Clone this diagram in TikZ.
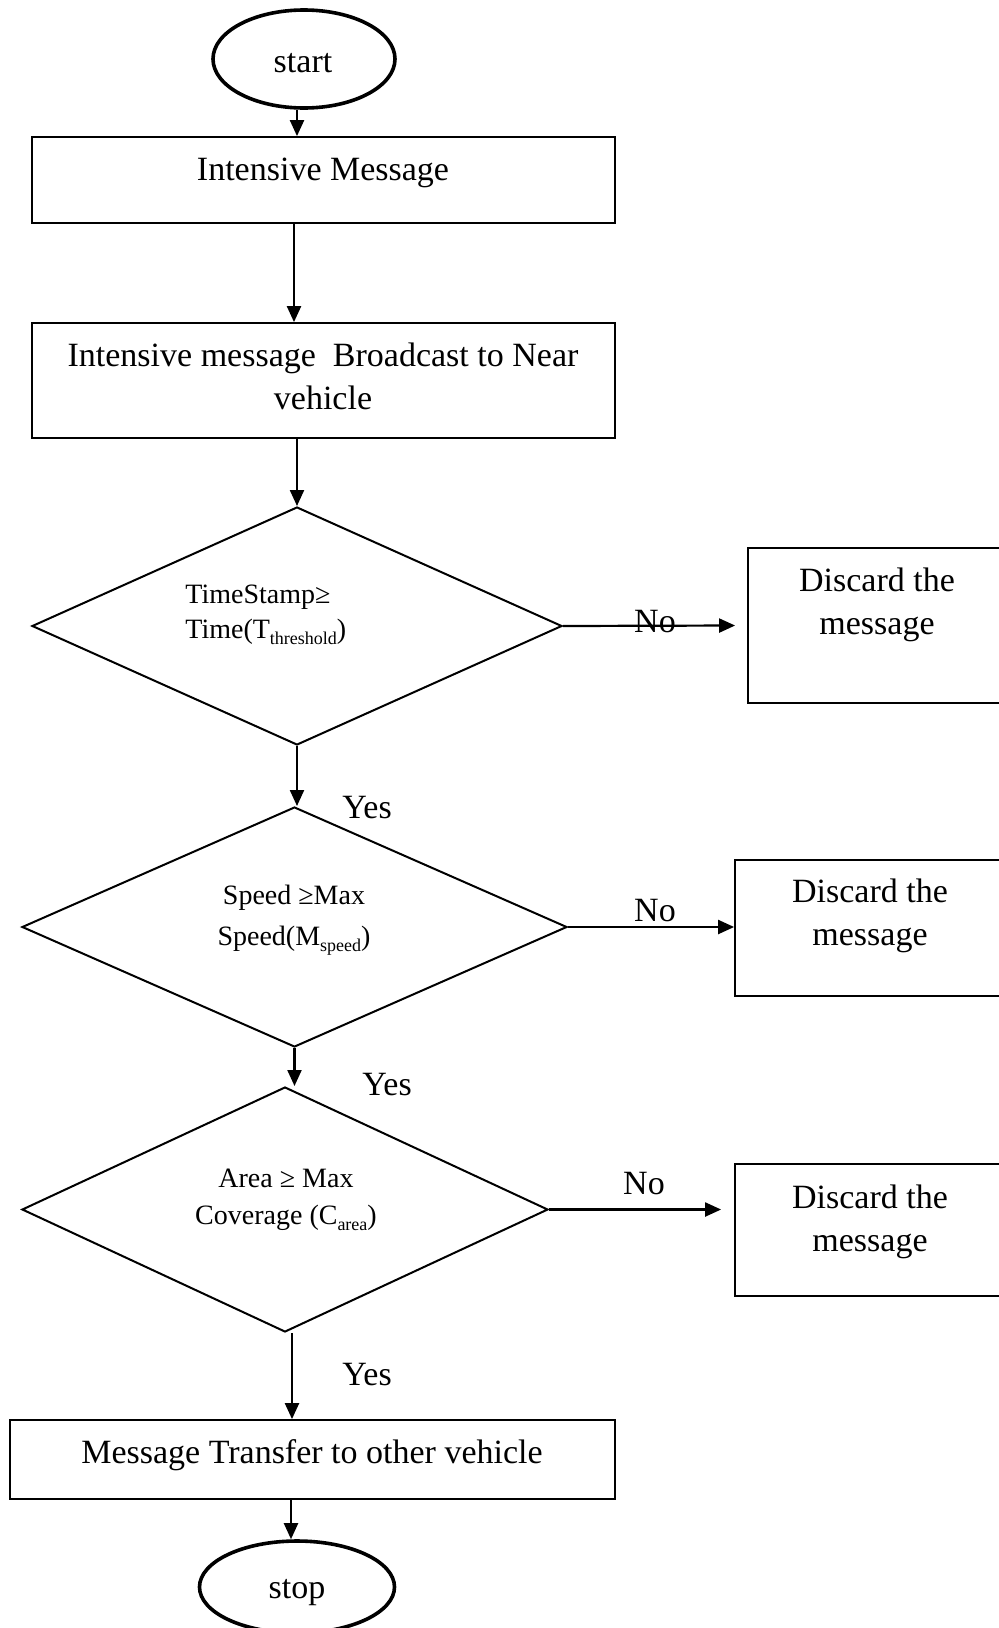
\documentclass[tikz,border=0pt]{standalone}
\usepackage{fontspec}
\setmainfont{Liberation Serif}
\usetikzlibrary{arrows.meta,shapes.geometric}
\newcommand{\sbs}[1]{\raisebox{-0.45ex}{\fontsize{9}{9}\selectfont #1}}
\begin{document}
\begin{tikzpicture}[x=0.5pt,y=-0.5pt,
  box/.style={draw,line width=0.9pt,inner sep=0},
  term/.style={draw,ellipse,line width=1.8pt,inner sep=0,font=\fontsize{17}{20}\selectfont},
  dec/.style={draw,diamond,line width=1pt,inner sep=0},
  txt/.style={font=\fontsize{17}{21.5}\selectfont,align=center,inner sep=0},
  dtxt/.style={font=\fontsize{14}{17.5}\selectfont,inner sep=0},
  arr/.style={line width=1.1pt,-{Triangle[length=8pt,width=7pt]}},
  lbl/.style={font=\fontsize{17}{20}\selectfont,inner sep=0}]
\useasboundingbox (0,0) rectangle (999,1628);
\clip (0,0) rectangle (999,1628);

% terminals
\node[term,minimum width=91pt,minimum height=49pt] (start) at (304,59) {};
\node[lbl] (startt) at (303,63) {start};
\node[term,minimum width=97.5pt,minimum height=46pt] (stop) at (297,1587) {};
\node[lbl] (stopt) at (297,1593) {stop};

% process boxes
\node[box,minimum width=291.5pt,minimum height=43pt] (b1) at (323.5,180) {};
\node[txt] (b1t) at (323,173) {Intensive Message};
\node[box,minimum width=291.5pt,minimum height=57.5pt] (b2) at (323.5,380.5) {};
\node[txt] (b2t) at (323,376) {Intensive message\ \ Broadcast to Near\\vehicle};
\node[box,minimum width=302.5pt,minimum height=39.5pt] (fin) at (312.5,1459.5) {};
\node[txt] (fint) at (312,1455) {Message Transfer to other vehicle};

% decisions
\node[dec,minimum width=265pt,minimum height=119pt] (d1) at (297,626) {};
\node[dtxt,align=left,anchor=west,font=\fontsize{14}{17.5}\selectfont] (d1t) at (185,615) {TimeStamp≥\\Time(T\sbs{threshold})};
\node[dec,minimum width=272.5pt,minimum height=120pt] (d2) at (294.5,927) {};
\node[dtxt,align=center,font=\fontsize{14}{20.75}\selectfont] (d2t) at (294,920) {Speed ≥Max\\Speed(M\sbs{speed})};
\node[dec,minimum width=263pt,minimum height=122.5pt] (d3) at (285,1209.5) {};
\node[dtxt,align=center,font=\fontsize{14}{18.7}\selectfont] (d3t) at (286,1200) {Area ≥ Max\\Coverage (C\sbs{area})};

% discard boxes
\node[box,minimum width=129pt,minimum height=77.5pt] (x1) at (877,625.5) {};
\node[txt] (x1t) at (877,605) {Discard the\\message};
\node[box,minimum width=135pt,minimum height=68pt] (x2) at (870,928) {};
\node[txt] (x2t) at (870,916) {Discard the\\message};
\node[box,minimum width=135pt,minimum height=66pt] (x3) at (870,1230) {};
\node[txt] (x3t) at (870,1222) {Discard the\\message};

% main flow
\draw[arr] ([xshift=-3.5pt]start.south) -- ([xshift=-3.5pt]start.south |- b1.north);
\draw[arr] ([xshift=-14.75pt]b1.south) -- ([xshift=-14.75pt]b1.south |- b2.north);
\draw[arr] (b2.south -| d1.north) -- (d1.north);
\draw[arr] (d1.south) -- (d1.south |- d2.north);
\draw[arr] (d2.south) -- (d2.south |- d3.north);
\draw[arr] ([xshift=3.5pt]d3.south) -- ([xshift=3.5pt]d3.south |- fin.north);
\draw[arr] ([xshift=-3pt]fin.south -| stop.north) -- ([xshift=-3pt]stop.north);

% no branches
\draw[arr] (d1.east) -- ([xshift=-6pt]x1.west);
\draw[arr] (d2.east) -- (d2.east -| x2.west);
\draw[arr] (d3.east) -- ([xshift=-6.5pt]d3.east -| x3.west);

% labels
\node[lbl] (no1) at (655,622) {No};
\node[lbl] (no2) at (655,911) {No};
\node[lbl] (no3) at (644,1184) {No};
\node[lbl] (yes1) at (367,808) {Yes};
\node[lbl] (yes2) at (387,1085) {Yes};
\node[lbl] (yes3) at (367,1375) {Yes};
\end{tikzpicture}
\end{document}
